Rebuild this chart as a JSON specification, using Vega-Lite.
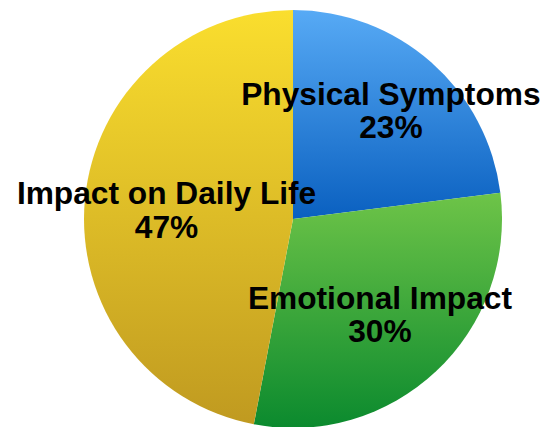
{
  "$schema": "https://vega.github.io/schema/vega-lite/v6.json",
  "width": 504,
  "height": 416,
  "autosize": {"type": "none"},
  "padding": {"left": 41, "top": 11, "right": 0, "bottom": 0},
  "background": "white",
  "config": {"view": {"stroke": null}},
  "data": {
    "values": [
      {"category": "Physical Symptoms", "value": 23, "order": 1},
      {"category": "Emotional Impact", "value": 30, "order": 2},
      {"category": "Impact on Daily Life", "value": 47, "order": 3}
    ]
  },
  "transform": [
    {"stack": "value", "groupby": [], "as": ["start", "end"], "sort": [{"field": "order", "order": "ascending"}]},
    {"calculate": "(datum.start + datum.end) / 2", "as": "mid"},
    {"calculate": "[datum.category, datum.value + '%']", "as": "label"}
  ],
  "layer": [
    {
      "transform": [{"filter": "datum.category === 'Physical Symptoms'"}],
      "mark": {"type": "arc", "outerRadius": 209, "color": {"gradient": "linear", "x1": 0, "y1": 0, "x2": 0, "y2": 1, "stops": [{"offset": 0, "color": "#57aaf5"}, {"offset": 1, "color": "#0a60c0"}]}},
      "encoding": {
        "theta": {"field": "start", "type": "quantitative", "scale": {"domain": [0, 100]}},
        "theta2": {"field": "end"}
      }
    },
    {
      "transform": [{"filter": "datum.category === 'Emotional Impact'"}],
      "mark": {"type": "arc", "outerRadius": 209, "color": {"gradient": "linear", "x1": 0, "y1": 0, "x2": 0, "y2": 1, "stops": [{"offset": 0, "color": "#6ec448"}, {"offset": 1, "color": "#0b8a2e"}]}},
      "encoding": {
        "theta": {"field": "start", "type": "quantitative", "scale": {"domain": [0, 100]}},
        "theta2": {"field": "end"}
      }
    },
    {
      "transform": [{"filter": "datum.category === 'Impact on Daily Life'"}],
      "mark": {"type": "arc", "outerRadius": 209, "color": {"gradient": "linear", "x1": 0, "y1": 0, "x2": 0, "y2": 1, "stops": [{"offset": 0, "color": "#fade2e"}, {"offset": 1, "color": "#c09a20"}]}},
      "encoding": {
        "theta": {"field": "start", "type": "quantitative", "scale": {"domain": [0, 100]}},
        "theta2": {"field": "end"}
      }
    },
    {
      "transform": [{"filter": "datum.category === 'Physical Symptoms'"}],
      "mark": {"type": "text", "radius": 148, "dy": -13, "font": "Liberation Sans", "fontWeight": "bold", "fontSize": 31.7, "lineHeight": 33.5, "align": "center", "baseline": "middle", "color": "black"},
      "encoding": {
        "theta": {"field": "mid", "type": "quantitative", "scale": {"domain": [0, 100]}},
        "text": {"field": "label"}
      }
    },
    {
      "transform": [{"filter": "datum.category !== 'Physical Symptoms'"}],
      "mark": {"type": "text", "radius": 127, "dy": -13, "font": "Liberation Sans", "fontWeight": "bold", "fontSize": 31.7, "lineHeight": 33.5, "align": "center", "baseline": "middle", "color": "black"},
      "encoding": {
        "theta": {"field": "mid", "type": "quantitative", "scale": {"domain": [0, 100]}},
        "text": {"field": "label"}
      }
    }
  ]
}
